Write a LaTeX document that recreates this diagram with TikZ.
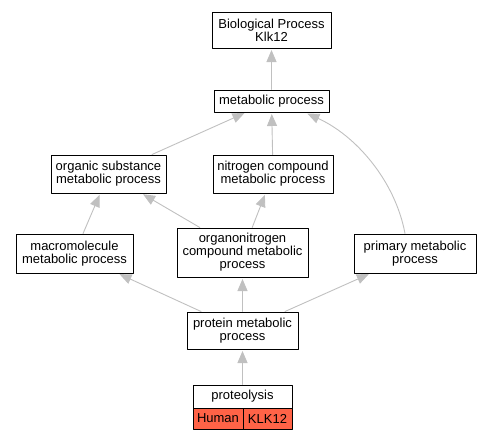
\documentclass[tikz,border=0pt]{standalone}
\usepackage{fontspec}
\setmainfont{Liberation Sans}
\usetikzlibrary{arrows.meta}
\definecolor{hitred}{HTML}{FF6347}
\definecolor{edgegray}{HTML}{C0C0C0}
\begin{document}
\begin{tikzpicture}[x=1pt,y=-1pt,line cap=round,line join=round,>={Triangle[width=10pt,length=12pt]},
	term/.style={draw,line width=1pt,fill=white,align=center,inner sep=0pt,font=\fontsize{13}{13}\selectfont},
	isa/.style={->,draw=edgegray,line width=0.9pt,shorten >=1.5pt}]
	\useasboundingbox (0,0) rectangle (483,440);
	% terms
	\node[term,minimum width=119pt,minimum height=36pt] (bp) at (271.5,30) {Biological Process\\Klk12};
	\node[term,minimum width=115pt,minimum height=22pt] (metab) at (271.5,101) {metabolic process};
	\node[term,minimum width=115pt,minimum height=38pt] (organic) at (108.5,174) {organic substance\\metabolic process};
	\node[term,minimum width=120pt,minimum height=38pt] (nitro) at (273,174) {nitrogen compound\\metabolic process};
	\node[term,minimum width=117pt,minimum height=39pt] (macro) at (74.5,253.5) {macromolecule\\metabolic process};
	\node[term,minimum width=131pt,minimum height=49pt] (organo) at (242.5,252.5) {organonitrogen\\compound metabolic\\process};
	\node[term,minimum width=122pt,minimum height=39pt] (primary) at (415,253.5) {primary metabolic\\process};
	\node[term,minimum width=111pt,minimum height=37pt] (protein) at (242.5,330.5) {protein metabolic\\process};
	\node[term,minimum width=99pt,minimum height=23pt] (proteo) at (242.5,396.5) {proteolysis};
	\node[term,fill=hitred,minimum width=50pt,minimum height=21pt] (human) at (218,418.5) {Human};
	\node[term,fill=hitred,minimum width=49pt,minimum height=21pt] (klk) at (267.5,418.5) {KLK12};
	\coordinate (metabend) at (306,113);
	% is_a edges
	\draw[isa] (metab) -- (bp);
	\draw[isa] (organic) -- (metab);
	\draw[isa] (nitro) -- (metab);
	\draw[isa] (primary.north -| 405,0) .. controls (395,180) and (355,135) .. (metabend);
	\draw[isa] (macro) -- (organic);
	\draw[isa] (organo) -- (organic);
	\draw[isa] (organo) -- (nitro);
	\draw[isa] (protein) -- (macro);
	\draw[isa] (protein) -- (organo);
	\draw[isa] (protein) -- (primary);
	\draw[isa] (proteo) -- (protein);
\end{tikzpicture}
\end{document}
